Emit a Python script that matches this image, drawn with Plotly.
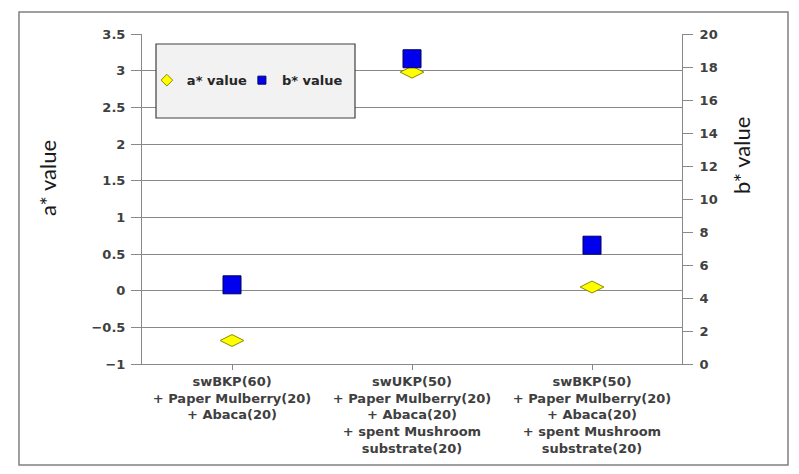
import plotly.graph_objects as go

categories = [
    "swBKP(60)<br>+ Paper Mulberry(20)<br>+ Abaca(20)",
    "swUKP(50)<br>+ Paper Mulberry(20)<br>+ Abaca(20)<br>+ spent Mushroom<br>substrate(20)",
    "swBKP(50)<br>+ Paper Mulberry(20)<br>+ Abaca(20)<br>+ spent Mushroom<br>substrate(20)",
]
a_values = [-0.68, 2.98, 0.05]
b_values = [4.8, 18.5, 7.2]

FONT = "DejaVu Sans"
TITLE_FONT = "Lato"
TICK_COLOR = "#404040"
GRID = "#888888"

fig = go.Figure()

fig.add_trace(go.Scatter(
    x=categories, y=a_values, mode="markers", name="a* value", showlegend=False,
    marker=dict(symbol="diamond-wide", size=17, color="#ffff00",
                line=dict(color="#8a8a00", width=1)),
    yaxis="y",
))
fig.add_trace(go.Scatter(
    x=categories, y=b_values, mode="markers", name="b* value", showlegend=False,
    marker=dict(symbol="square", size=18, color="#0000ee",
                line=dict(color="#000060", width=1)),
    yaxis="y2",
))
# legend entries (small symbols)
fig.add_trace(go.Scatter(
    x=[None], y=[None], mode="markers", name="a* value", legend="legend",
    marker=dict(symbol="diamond", size=9, color="#ffff00",
                line=dict(color="#8a8a00", width=1)),
))
fig.add_trace(go.Scatter(
    x=[None], y=[None], mode="markers", name="b* value", legend="legend2",
    marker=dict(symbol="square", size=8, color="#0000ee",
                line=dict(color="#000060", width=1)),
))

tickfont = dict(family=FONT, size=13, color=TICK_COLOR, weight="bold")
legfont = dict(family=FONT, size=13, color="#262626", weight="bold")

fig.update_layout(
    width=799, height=474,
    margin=dict(l=142, r=117, t=34, b=110),
    paper_bgcolor="white", plot_bgcolor="white",
    font=dict(family=FONT, color=TICK_COLOR),
    showlegend=True,
    legend=dict(
        orientation="h", x=0.009, y=0.86, xanchor="left", yanchor="middle",
        bgcolor="rgba(0,0,0,0)", borderwidth=0, font=legfont, itemwidth=30,
    ),
    legend2=dict(
        orientation="h", x=0.185, y=0.86, xanchor="left", yanchor="middle",
        bgcolor="rgba(0,0,0,0)", borderwidth=0, font=legfont, itemwidth=30,
    ),
    xaxis=dict(
        type="category", range=[-0.5, 2.5],
        showline=True, linecolor=GRID, linewidth=1,
        ticks="outside", ticklen=5, tickcolor=GRID,
        showgrid=False,
        tickfont=tickfont,
    ),
    yaxis=dict(
        range=[-1, 3.5], dtick=0.5, tick0=-1,
        showline=True, linecolor=GRID, linewidth=1,
        ticks="outside", ticklen=10, tickcolor=GRID,
        ticklabelstandoff=3,
        showgrid=True, gridcolor=GRID, gridwidth=1,
        zeroline=False,
        tickfont=tickfont,
    ),
    yaxis2=dict(
        range=[0, 20], dtick=2, overlaying="y", side="right",
        showline=True, linecolor=GRID, linewidth=1,
        ticks="outside", ticklen=10, tickcolor=GRID,
        ticklabelstandoff=4,
        showgrid=False, zeroline=False,
        tickfont=tickfont,
    ),
    shapes=[
        # outer chart border
        dict(type="rect", xref="paper", yref="paper",
             x0=-0.2278, x1=1.1963, y0=-0.306, y1=1.0667,
             line=dict(color="#808080", width=1.5), fillcolor="rgba(0,0,0,0)",
             layer="below"),
        # legend box
        dict(type="rect", xref="paper", yref="paper",
             x0=(156 - 142) / 540, x1=(355 - 142) / 540,
             y0=(364 - 118) / 330, y1=(364 - 44) / 330,
             line=dict(color="#404040", width=1.2), fillcolor="#f2f2f2",
             layer="above"),
    ],
    annotations=[
        dict(text="a* value", xref="paper", yref="paper",
             x=(47 - 142) / 540, y=(364 - 178) / 330, textangle=-90,
             showarrow=False, font=dict(family=TITLE_FONT, size=22, color="#1a1a1a"),
             xanchor="center", yanchor="middle"),
        dict(text="b* value", xref="paper", yref="paper",
             x=(741 - 142) / 540, y=(364 - 156) / 330, textangle=-90,
             showarrow=False, font=dict(family=TITLE_FONT, size=22, color="#1a1a1a"),
             xanchor="center", yanchor="middle"),
    ],
)

fig.write_html("out.html")
